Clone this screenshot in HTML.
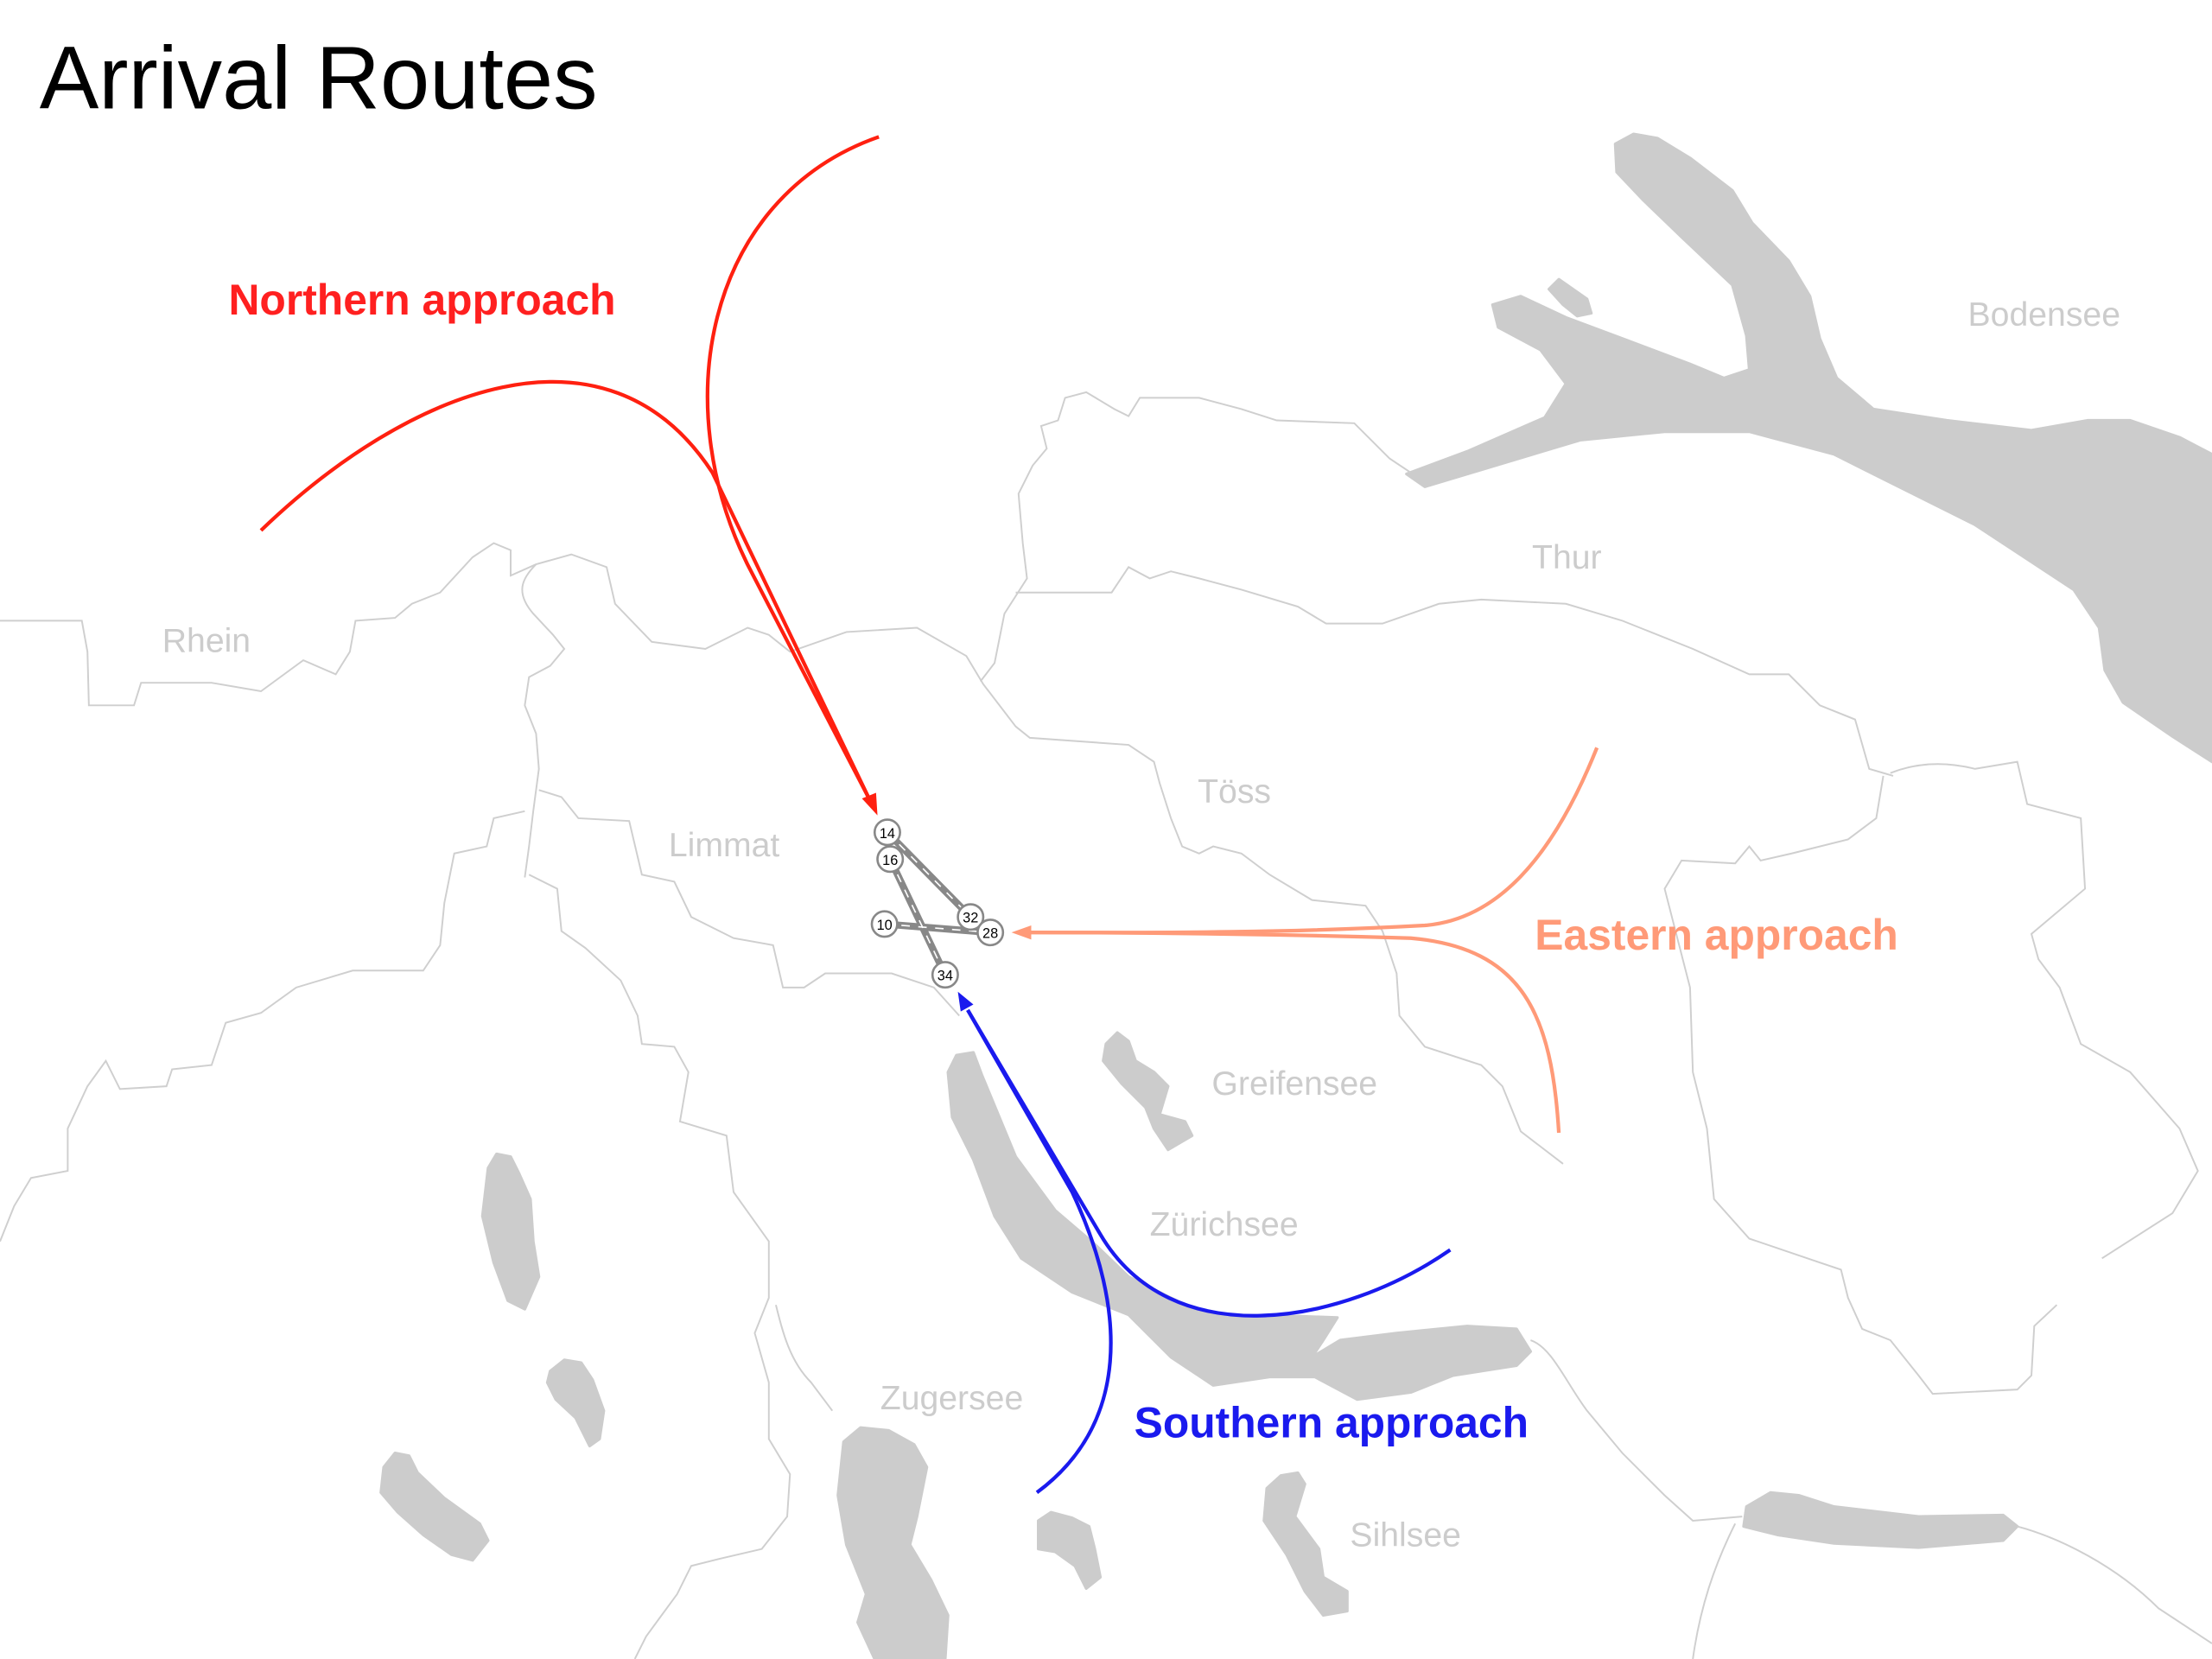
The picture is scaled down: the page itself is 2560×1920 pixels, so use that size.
<!DOCTYPE html>
<html><head><meta charset="utf-8"><style>
html,body{margin:0;padding:0;background:#fff;}
svg{display:block;}
text{font-family:"Liberation Sans",sans-serif;}
</style></head><body>
<svg width="2560" height="1920" viewBox="0 0 1568 1176" xmlns="http://www.w3.org/2000/svg">
<rect width="1568" height="1176" fill="#fff"/>
<g fill="#cccccc" stroke="#cccccc" stroke-width="2" stroke-linejoin="round">
<path d="M1145,102 L1158,95 1175,98 1198,112 1228,135 1242,158 1268,185 1283,210 1290,240 1302,268 1328,290 1380,298 1440,305 1480,298 1510,298 1545,310 1568,322 L1568,540 L1540,522 1505,498 1492,475 1488,445 1470,418 1400,372 1300,322 1240,306 1180,306 1120,312 1060,330 1010,345 997,336 1040,320 1095,296 1110,272 1092,248 1062,232 1058,216 1078,210 1110,225 1150,240 1198,258 1222,268 1240,262 1238,238 1228,202 1192,168 1165,142 1146,122 Z"/>
<path d="M1098,205 L1105,198 1125,212 1128,222 1118,224 1108,216 Z"/>
<path d="M672,760 L678,748 690,746 696,762 720,820 748,858 776,882 800,905 840,925 870,934 920,933 948,934 938,950 930,962 950,950 990,945 1040,940 1075,942 1085,958 1075,968 1030,975 1000,987 962,992 932,976 900,976 860,982 830,962 800,932 760,916 724,892 705,862 690,822 675,792 Z"/>
<path d="M784,740 L792,732 800,738 805,752 818,760 828,770 822,790 840,795 845,805 828,815 818,800 812,785 795,768 782,752 Z"/>
<path d="M346,828 L352,818 362,820 368,832 376,850 378,880 382,905 372,928 360,922 350,895 342,862 Z"/>
<path d="M390,972 L400,964 412,966 420,978 428,1000 425,1020 418,1025 408,1005 394,992 388,980 Z"/>
<path d="M272,1040 L280,1030 290,1032 296,1044 315,1062 340,1080 346,1092 335,1106 320,1102 300,1088 282,1072 270,1058 Z"/>
<path d="M598,1022 L610,1012 630,1014 648,1024 657,1040 650,1075 645,1095 660,1120 672,1145 670,1176 L620,1176 608,1150 614,1130 600,1095 594,1060 Z"/>
<path d="M736,1078 L745,1072 760,1076 772,1082 776,1098 780,1118 770,1126 762,1110 748,1100 736,1098 Z"/>
<path d="M898,1055 L908,1046 920,1044 925,1052 918,1075 935,1098 938,1118 955,1128 955,1142 938,1145 925,1128 912,1102 896,1078 Z"/>
<path d="M1238,1068 L1255,1058 1275,1060 1300,1068 1360,1075 1420,1074 1430,1082 1420,1092 1360,1097 1300,1094 1260,1088 1236,1082 Z"/>
</g>
<g fill="none" stroke="#cfcfcf" stroke-width="1.2">
<path d="M0,440 L58,440 62,462 63,500 95,500 100,484 150,484 185,490 215,468 238,478 248,462 252,440 280,438 292,428 312,420 335,395 350,385 362,390 362,408 380,400 405,393 430,402 436,428 462,455 500,460 530,445 545,450 560,462 600,448 650,445 685,465 697,485 720,515 730,523 800,528 818,540 822,555 830,580 838,600 850,605 860,600 880,605 900,620 930,638 968,642 980,660 990,690 992,720 1010,742 1050,755 1065,770 1078,802 1108,825"/>
<path d="M720,420 L760,420 788,420 800,402 815,410 830,405 850,410 880,418 920,430 940,442 980,442 1020,428 1050,425 1110,428 1150,440 1200,460 1240,478 1268,478 1290,500 1315,510 1325,545 1342,550"/>
<path d="M695,483 L705,470 712,435 728,410 725,385 722,350 732,330 742,318 738,302 750,298 755,282 770,278 790,290 800,295 808,282 850,282 880,290 905,298 960,300 985,325 1000,335"/>
<path d="M1340,548 C1360,540 1380,540 1400,545 L1430,540 1437,570 1475,580 1478,630 1440,662 1445,680 1460,700 1475,740 1510,760 1545,800 1558,830 1540,860 1490,892"/>
<path d="M1335,550 L1330,580 1310,595 1270,605 1248,610 1240,600 1230,612 1192,610 1180,630 1198,700 1200,760 1210,800 1215,850 1240,878 1290,895 1305,900 1310,920 1320,942 1340,950 1360,975 1370,988 1430,985 1440,975 1442,940 1458,925"/>
<path d="M380,400 C370,410 365,420 378,435 L392,450 400,460 390,472 375,480 372,500 380,520 382,545 378,575 375,600 372,622"/>
<path d="M382,560 L398,565 410,580 446,582 455,620 478,625 490,650 520,665 548,670 555,700 570,700 585,690 632,690 662,700 680,720"/>
<path d="M372,575 L350,580 345,600 322,605 315,640 312,670 300,688 250,688 210,700 185,718 160,725 150,755 122,758 118,770 85,772 75,752 62,770 48,800 48,830 22,835 10,855 0,880"/>
<path d="M375,620 L395,630 398,660 415,672 440,695 452,720 455,740 478,742 488,760 482,795 515,805 520,845 545,880 545,920 535,945 545,980 545,1020 560,1045 558,1075 540,1098 510,1105 490,1110 480,1130 458,1160 450,1176"/>
<path d="M550,925 C555,945 560,965 575,980 L590,1000"/>
<path d="M1085,950 C1100,955 1110,980 1125,1000 L1150,1030 1180,1060 1200,1078 1235,1075"/>
<path d="M1430,1082 C1460,1090 1500,1110 1530,1140 L1568,1165"/>
<path d="M1230,1080 C1215,1110 1205,1140 1200,1176"/>
</g>
<g fill="#cccccc" font-size="24">
<text x="1395" y="231">Bodensee</text>
<text x="1086" y="403">Thur</text>
<text x="115" y="462">Rhein</text>
<text x="849" y="569">Töss</text>
<text x="474" y="607">Limmat</text>
<text x="859" y="776">Greifensee</text>
<text x="815" y="876">Zürichsee</text>
<text x="624" y="999">Zugersee</text>
<text x="957" y="1096">Sihlsee</text>
</g>
<text x="28" y="77" font-size="63" fill="#000">Arrival Routes</text>
<g font-size="30.5" font-weight="bold">
<text x="162" y="223" fill="#ff2020">Northern approach</text>
<text x="1088" y="673" fill="#ff9a78">Eastern approach</text>
<text x="804" y="1019" fill="#1a1aee">Southern approach</text>
</g>
<g fill="none" stroke-width="2.6">
<path d="M185,376 C290,275 430,220 505,335 L616,566" stroke="#ff2010"/>
<path d="M623,97 C500,140 470,290 535,410 L616,566" stroke="#ff2010"/>
<path d="M1132,530 C1100,610 1060,652 1010,656 C900,662 800,661 730,661" stroke="#ff9a78"/>
<path d="M1105,803 C1100,720 1080,672 1000,665 C900,662 800,661 730,661" stroke="#ff9a78"/>
<path d="M735,1058 C800,1010 800,930 760,845 L686,716" stroke="#1a1aee"/>
<path d="M1028,886 C950,940 830,960 780,875 L686,716" stroke="#1a1aee"/>
</g>
<polygon points="622,578 611,566 621,562" fill="#ff2010"/>
<polygon points="717,661 731,656 731,666" fill="#ff9a78"/>
<polygon points="679,703 690,712 681,717" fill="#1a1aee"/>
<g stroke="#888" stroke-width="5" stroke-linecap="round">
<line x1="629" y1="590" x2="688" y2="650"/>
<line x1="631" y1="609" x2="670" y2="691"/>
<line x1="627" y1="655" x2="702" y2="661"/>
</g>
<g stroke="#fff" stroke-width="1" stroke-dasharray="6,6">
<line x1="629" y1="590" x2="688" y2="650"/>
<line x1="631" y1="609" x2="670" y2="691"/>
<line x1="627" y1="655" x2="702" y2="661"/>
</g>
<g fill="#fff" stroke="#888" stroke-width="1.6">
<circle cx="629" cy="590" r="9"/>
<circle cx="631" cy="609" r="9"/>
<circle cx="627" cy="655" r="9"/>
<circle cx="688" cy="650" r="9"/>
<circle cx="702" cy="661" r="9"/>
<circle cx="670" cy="691" r="9"/>
</g>
<g font-size="10" fill="#000" text-anchor="middle">
<text x="629" y="594">14</text>
<text x="631" y="613">16</text>
<text x="627" y="659">10</text>
<text x="688" y="654">32</text>
<text x="702" y="665">28</text>
<text x="670" y="695">34</text>
</g>
</svg>
</body></html>
